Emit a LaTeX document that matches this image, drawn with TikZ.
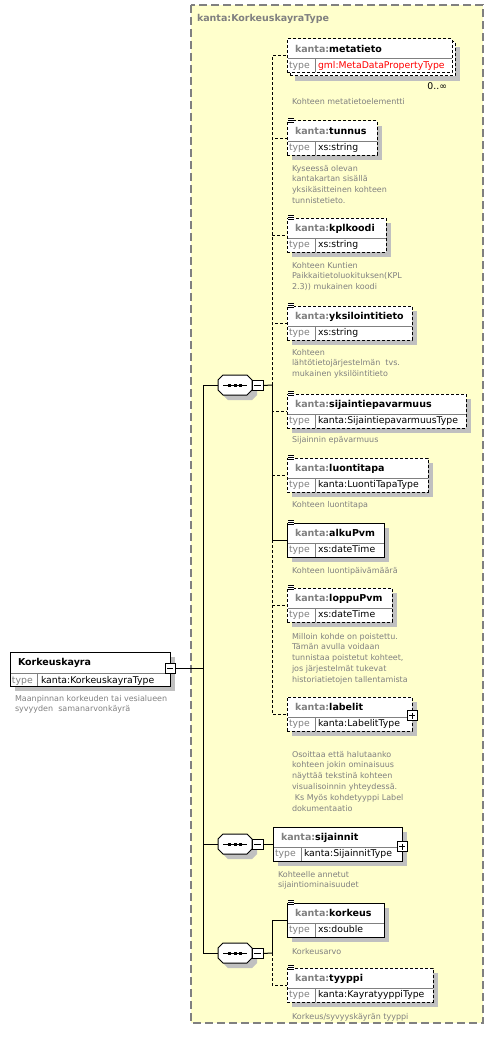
\documentclass[tikz,border=0pt]{standalone}
\usepackage{fontspec}
\setmainfont{DejaVu Sans}
\usetikzlibrary{shadows}
\definecolor{bgyellow}{RGB}{255,255,204}
\definecolor{txtgray}{RGB}{128,128,128}
\definecolor{shgray}{RGB}{192,192,192}
\tikzset{
  every node/.style={inner sep=0pt, outer sep=0pt},
  boxbase/.style={draw=black, fill=white, rectangle, anchor=north west, minimum height=34pt, line width=1pt},
  shadowed/.style={drop shadow={shadow xshift=5pt, shadow yshift=-5pt, fill=shgray, opacity=1}},
  reqbox/.style={boxbase, shadowed},
  optbox/.style={boxbase, shadowed, dash pattern=on 3pt off 2pt},
  optplain/.style={boxbase, dash pattern=on 3pt off 2pt},
  conn/.style={line width=1pt, draw=black},
  optconn/.style={conn, dash pattern=on 3pt off 2pt},
  divider/.style={draw=txtgray, line width=1pt},
  ttl/.style={font=\fontsize{9.5}{11}\selectfont\bfseries, anchor=base west},
  typ/.style={font=\fontsize{9.3}{11}\selectfont, anchor=base west},
  desc/.style={font=\fontsize{8}{10.8}\selectfont, text=txtgray, align=left, anchor=north west},
  btn/.style={draw=black, fill=white, line width=1pt, minimum width=10pt, minimum height=10pt},
  seqhold/.style={minimum width=34pt, minimum height=20pt}
}
\newcommand\elem[7]{%
  \node[#2, minimum width=#5pt] (#1) at (#3,#4) {};
  \draw[divider] ([xshift=0.5pt,yshift=-20pt]#1.north west) -- ([xshift=-0.5pt,yshift=-20pt]#1.north east);
  \draw[divider] ([xshift=28pt,yshift=-20pt]#1.north west) -- ([xshift=28pt,yshift=0.5pt]#1.south west);
  \node[ttl] (#1-t) at ([xshift=8pt,yshift=-13.5pt]#1.north west) {\textcolor{txtgray}{kanta:}#6};
  \node[typ, text=txtgray] (#1-ty) at ([xshift=2pt,yshift=4.5pt]#1.south west) {type};
  \node[typ] (#1-tv) at ([xshift=31pt,yshift=4.5pt]#1.south west) {#7};
}
\newcommand\docicon[1]{%
  \fill[white] ([xshift=0.5pt,yshift=3pt]#1.north west) rectangle ([xshift=7pt,yshift=-3pt]#1.north west);
  \foreach \dy in {2.5,0.5,-1.5} {\draw[line width=0.8pt] ([xshift=1pt,yshift=\dy pt]#1.north west) -- ([xshift=6.5pt,yshift=\dy pt]#1.north west);}
}
\newcommand\seqsym[3]{%
  \begin{scope}[shift={(#2,#3)}]
    \fill[shgray] (-12,0) -- (-7,-5) -- (17,-5) -- (22,0) -- (22,10) -- (17,15) -- (-7,15) -- (-12,10) -- cycle;
    \draw[line width=1pt, fill=white] (-17,-5) -- (-12,-10) -- (12,-10) -- (17,-5) -- (17,5) -- (12,10) -- (-12,10) -- (-17,5) -- cycle;
    \node[seqhold] (#1) at (0,0) {};
    \draw[line width=1pt] (-12,0) -- (12,0);
    \fill (-7,-1.5) rectangle (-4,1.5);
    \fill (-1.5,-1.5) rectangle (1.5,1.5);
    \fill (4,-1.5) rectangle (7,1.5);
    \node[btn, minimum width=11pt] (#1m) at (22.5,0.5) {};
    \draw[line width=1pt] ([xshift=2pt]#1m.west) -- ([xshift=-2pt]#1m.east);
  \end{scope}
}
\begin{document}
\begin{tikzpicture}[x=1pt,y=-1pt]
\useasboundingbox (0,0) rectangle (494,1038);
% complex type frame
\draw[fill=bgyellow, draw=txtgray, line width=1.5pt, dash pattern=on 8pt off 4pt] (191,5) rectangle (483,1023);
\node[ttl, text=txtgray] (ctitle) at (197,22) {kanta:KorkeuskayraType};

\coordinate (spine) at (203,0);
\coordinate (j1) at (272,385);
\coordinate (j3) at (272,953);

% root element
\node[reqbox, minimum width=160pt] (root) at (10,652) {};
\draw[divider] (10.5,673) -- (169.5,673);
\draw[divider] (37,673) -- (37,685.5);
\node[ttl] (root-t) at (18,665) {Korkeuskayra};
\node[typ, text=txtgray] (root-ty) at (12,683) {type};
\node[typ] (root-tv) at (41,683) {kanta:KorkeuskayraType};
\node[btn] (rootbtn) at (170,668.5) {};
\draw[line width=1pt] ([xshift=2pt]rootbtn.west) -- ([xshift=-2pt]rootbtn.east);
\node[desc] (root-d) at (15,695) {Maanpinnan korkeuden tai vesialueen\\syvyyden\ \ samanarvonkäyrä};

% sequences
\seqsym{s1}{235}{385}
\seqsym{s2}{235}{844}
\seqsym{s3}{235}{953}

% connectors
\draw[conn] (rootbtn.east) -- (rootbtn.east -| spine);
\draw[conn] (s1.west) -- (s1.west -| spine) -- (s3.west -| spine) -- (s3.west);
\draw[conn] (s2.west -| spine) -- (s2.west);

% elements
\node[optbox, minimum width=165pt] (metaback) at (290,42) {};
\elem{metatieto}{optplain}{287}{39}{165}{metatieto}{\textcolor{red}{gml:MetaDataPropertyType}}
\node[typ, anchor=base east] (metamult) at (447,90) {0..∞};
\elem{tunnus}{optbox}{287}{121}{90}{tunnus}{xs:string}
\elem{kplkoodi}{optbox}{287}{218}{99}{kplkoodi}{xs:string}
\elem{yksilointitieto}{optbox}{287}{306}{125}{yksilointitieto}{xs:string}
\elem{sijaintiepavarmuus}{optbox}{287}{394}{179}{sijaintiepavarmuus}{kanta:SijaintiepavarmuusType}
\elem{luontitapa}{optbox}{287}{458}{141}{luontitapa}{kanta:LuontiTapaType}
\elem{alkuPvm}{reqbox}{287}{523}{97}{alkuPvm}{xs:dateTime}
\elem{loppuPvm}{optbox}{287}{588}{105}{loppuPvm}{xs:dateTime}
\elem{labelit}{optbox}{287}{697}{125}{labelit}{kanta:LabelitType}
\elem{sijainnit}{reqbox}{273}{827}{129}{sijainnit}{kanta:SijainnitType}
\elem{korkeus}{reqbox}{287}{903}{97}{korkeus}{xs:double}
\elem{tyyppi}{optbox}{287}{968}{146}{tyyppi}{kanta:KayratyyppiType}

\foreach \e in {tunnus,kplkoodi,yksilointitieto,sijaintiepavarmuus,luontitapa,alkuPvm,loppuPvm,korkeus,tyyppi} {\docicon{\e}}

% expand buttons
\node[btn] (labelitbtn) at ([yshift=-18.5pt]labelit.north east) {};
\draw[line width=1pt] ([xshift=2pt]labelitbtn.west) -- ([xshift=-2pt]labelitbtn.east);
\draw[line width=1pt] ([yshift=-2pt]labelitbtn.north) -- ([yshift=2pt]labelitbtn.south);
\node[btn] (sijainnitbtn) at ([yshift=-19.5pt]sijainnit.north east) {};
\draw[line width=1pt] ([xshift=2pt]sijainnitbtn.west) -- ([xshift=-2pt]sijainnitbtn.east);
\draw[line width=1pt] ([yshift=-2pt]sijainnitbtn.north) -- ([yshift=2pt]sijainnitbtn.south);

% sequence children connectors
\draw[conn] (s1m.east) -- (j1);
\foreach \e in {metatieto,tunnus,kplkoodi,yksilointitieto,sijaintiepavarmuus,luontitapa,loppuPvm,labelit} {\draw[optconn] (j1) |- (\e.west);}
\draw[conn] (j1) |- (alkuPvm.west);
\draw[conn] (s2m.east) -- (s2m.east -| sijainnit.west);
\draw[conn] (s3m.east) -- (j3);
\draw[optconn] (j3) |- (tyyppi.west);
\draw[conn] (j3) |- (korkeus.west);

% descriptions
\node[desc] (metatieto-d) at (292,98) {Kohteen metatietoelementti};
\node[desc] (tunnus-d) at (292,165) {Kyseessä olevan\\kantakartan sisällä\\yksikäsitteinen kohteen\\tunnistetieto.};
\node[desc] (kplkoodi-d) at (292,262) {Kohteen Kuntien\\Paikkaitietoluokituksen(KPL\\2.3)) mukainen koodi};
\node[desc] (yksilointitieto-d) at (292,349) {Kohteen\\lähtötietojärjestelmän\ \ tvs.\\mukainen yksilöintitieto};
\node[desc] (sijaintiepavarmuus-d) at (292,436) {Sijainnin epävarmuus};
\node[desc] (luontitapa-d) at (292,501) {Kohteen luontitapa};
\node[desc] (alkuPvm-d) at (292,567) {Kohteen luontipäivämäärä};
\node[desc] (loppuPvm-d) at (292,633) {Milloin kohde on poistettu.\\Tämän avulla voidaan\\tunnistaa poistetut kohteet,\\jos järjestelmät tukevat\\historiatietojen tallentamista};
\node[desc] (labelit-d) at (292,751) {Osoittaa että halutaanko\\kohteen jokin ominaisuus\\näyttää tekstinä kohteen\\visualisoinnin yhteydessä.\\\hspace*{0.35em}Ks Myös kohdetyyppi Label\\dokumentaatio};
\node[desc] (sijainnit-d) at (278,871) {Kohteelle annetut\\sijaintiominaisuudet};
\node[desc] (korkeus-d) at (292,948) {Korkeusarvo};
\node[desc] (tyyppi-d) at (292,1013) {Korkeus/syvyyskäyrän tyyppi};
\end{tikzpicture}
\end{document}
